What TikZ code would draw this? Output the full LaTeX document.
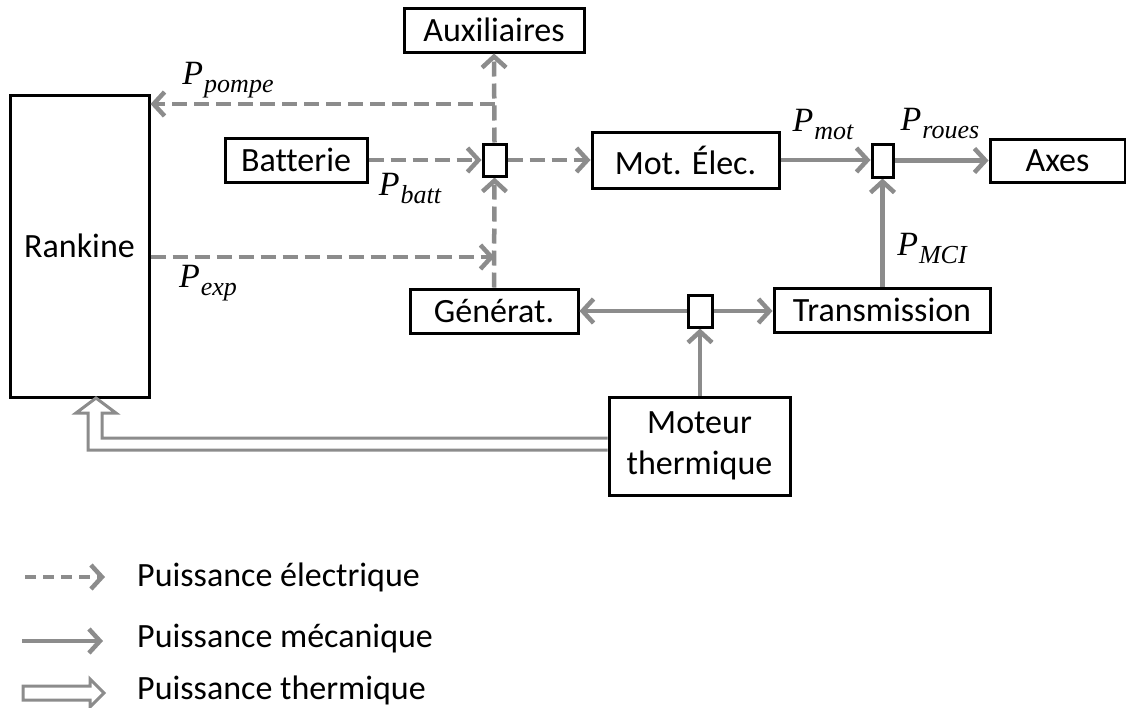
\documentclass[tikz,border=0pt]{standalone}
\usepackage{fontspec}
\setmainfont{Carlito}[Ligatures=NoCommon]
\newfontfamily\mfont{Liberation Serif}
\newcommand{\Psb}[1]{{\mfont\itshape\fontsize{34}{41}\selectfont P\kern1pt\raisebox{-8pt}{\fontsize{26}{26}\selectfont #1}}}
\usetikzlibrary{arrows.meta}
\definecolor{lg}{RGB}{140,140,140}
\tikzset{
  box/.style={draw=black, line width=3pt, inner sep=0pt, font=\fontsize{34}{41}\selectfont, align=center},
  jbox/.style={draw=black, line width=3pt, inner sep=0pt, fill=white},
  elec/.style={draw=lg, line width=4.5pt, dash pattern=on 15pt off 7pt, -{Straight Barb[length=11pt,width=24pt]}},
  meca/.style={draw=lg, line width=4.5pt, -{Straight Barb[length=11pt,width=24pt]}},
  therm/.style={draw=lg, line width=3pt, line join=miter},
  lbl/.style={font=\fontsize{34}{41}\selectfont, inner sep=0pt},
}
\begin{document}
\begin{tikzpicture}[x=1pt,y=-1pt]
\useasboundingbox (0,0) rectangle (1126,707);
% boxes
\node[box, minimum width=180pt, minimum height=44pt] (aux) at (494,30) {Auxiliaires};
\node[box, minimum width=139pt, minimum height=302pt] (rank) at (79.5,246) {Rankine};
\node[box, minimum width=142pt, minimum height=44pt] (batt) at (296,160) {Batterie};
\node[jbox, minimum width=23pt, minimum height=32pt] (j1) at (494.5,160) {};
\node[box, minimum width=187pt, minimum height=56pt] (mot) at (685.5,160) {Mot. Élec.};
\node[jbox, minimum width=21pt, minimum height=33pt] (j2) at (882.5,160.5) {};
\node[box, minimum width=135pt, minimum height=43pt] (axes) at (1057.5,160.5) {Axes};
\node[box, minimum width=168pt, minimum height=44pt] (gen) at (494,311) {Générat.};
\node[jbox, minimum width=24pt, minimum height=32pt] (j3) at (700,311) {};
\node[box, minimum width=216pt, minimum height=44pt] (trans) at (882,310) {Transmission};
\node[box, minimum width=181pt, minimum height=98pt] (mth) at (699.5,446) {Moteur\\thermique};
% helper coordinates
\coordinate (pompeA) at (494.5,104);
\coordinate (pompeB) at (rank.east |- pompeA);
\coordinate (expA) at (rank.east |- 0,257);
\coordinate (expB) at (494.5,257);
% electric
\draw[elec] (j1.north) -- (aux.south);
\draw[elec] (pompeA) -- (pompeB);
\draw[elec] (batt.east) -- (j1.west);
\draw[elec] (j1.east) -- (mot.west);
\draw[elec] (gen.north) -- (j1.south);
\draw[elec] (expA) -- (expB);
% mechanical
\draw[meca] (mot.east) -- (j2.west |- mot.east);
\draw[meca] (j2.east) -- (axes.west |- j2.east);
\draw[meca] (trans.north -| j2.south) -- (j2.south);
\draw[meca] (j3.west) -- (gen.east |- j3.west);
\draw[meca] (j3.east) -- (trans.west |- j3.east);
\draw[meca] (mth.north -| j3.south) -- (j3.south);
% redraw junctions on top
\node[jbox, minimum width=23pt, minimum height=32pt] at (j1) {};
\node[jbox, minimum width=21pt, minimum height=33pt] at (j2) {};
\node[jbox, minimum width=24pt, minimum height=32pt] at (j3) {};
% thermal
\draw[therm] ([yshift=-4pt]mth.west) -- (88,450) -- (88,413) -- (76,413) -- (96,398) -- (116,413) -- (102,413) -- (102,438) -- ([yshift=8pt]mth.west);
% labels
\node[lbl] (lpompe) at (228,80) {\Psb{pompe}};
\node[lbl] (lbatt) at (410,188) {\Psb{batt}};
\node[lbl] (lexp) at (208,283) {\Psb{exp}};
\node[lbl] (lmot) at (823,124) {\Psb{mot}};
\node[lbl] (lroues) at (940,124) {\Psb{roues}};
\node[lbl] (lmci) at (932,248) {\Psb{MCI}};
% legend
\coordinate (le1a) at (25,577);
\coordinate (le1b) at (105,577);
\coordinate (le2a) at (22,641);
\coordinate (le2b) at (103,641);
\draw[elec, dash pattern=on 11pt off 7pt] (le1a) -- (le1b);
\draw[meca] (le2a) -- (le2b);
\draw[therm] (23,686) -- (90,686) -- (90,679) -- (104,693) -- (90,707) -- (90,700) -- (23,700) -- cycle;
\node[lbl, anchor=west] (t1) at (137,577) {Puissance électrique};
\node[lbl, anchor=west] (t2) at (137,639) {Puissance mécanique};
\node[lbl, anchor=west] (t3) at (137,690) {Puissance thermique};
\end{tikzpicture}
\end{document}
